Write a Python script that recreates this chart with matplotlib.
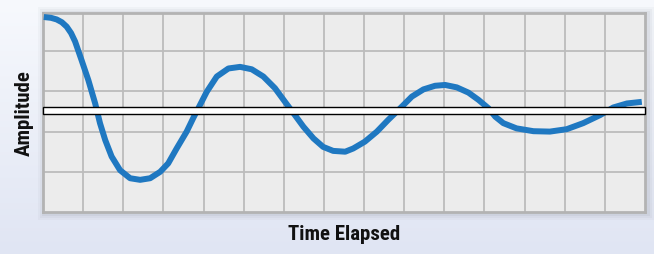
"""Damped oscillation sketch on a light grid with a white baseline bar."""

import matplotlib.pyplot as plt
import numpy as np
from matplotlib.patches import Rectangle
from matplotlib.colors import LinearSegmentedColormap

# curve, in grid units (columns, rows)
time_elapsed = [0.02, 0.20, 0.34, 0.47, 0.59, 0.70, 0.80, 0.96, 1.13, 1.30,
                1.42, 1.55, 1.71, 1.92, 2.17, 2.42, 2.67, 2.92, 3.12, 3.33,
                3.58, 3.76, 3.87, 4.08, 4.33, 4.62, 4.91, 5.20, 5.49, 5.78,
                6.03, 6.24, 6.49, 6.74, 6.98, 7.23, 7.53, 7.73, 8.02, 8.32,
                8.60, 8.90, 9.19, 9.48, 9.77, 10.02, 10.31, 10.60, 10.85,
                11.10, 11.27, 11.47, 11.80, 12.22, 12.63, 13.05, 13.46, 13.88,
                14.21, 14.55, 14.92]
amplitude = [4.85, 4.83, 4.79, 4.72, 4.61, 4.45, 4.24, 3.78, 3.28, 2.70,
             2.21, 1.79, 1.38, 1.04, 0.84, 0.80, 0.84, 1.00, 1.21, 1.58,
             2.00, 2.37, 2.58, 2.99, 3.37, 3.57, 3.61, 3.55, 3.37, 3.08,
             2.74, 2.46, 2.12, 1.83, 1.62, 1.52, 1.50, 1.58, 1.75, 2.00,
             2.29, 2.58, 2.87, 3.05, 3.14, 3.16, 3.10, 2.97, 2.79,
             2.58, 2.37, 2.21, 2.08, 2.01, 2.00, 2.06, 2.21, 2.41,
             2.60, 2.70, 2.74]
baseline = (2.44, 2.62)  # white bar, bottom and top
n_cols, n_rows = 15, 4.95

W, H = 654, 254
fig = plt.figure(figsize=(W / 100, H / 100), dpi=100)

# background gradient
bg = fig.add_axes([0, 0, 1, 1], zorder=-10)
bg.axis("off")
grad_cmap = LinearSegmentedColormap.from_list("bg", ["#f7f9fd", "#e0e5f3"])
bg.imshow(np.linspace(0, 1, 256)[:, None], aspect="auto", cmap=grad_cmap,
          extent=[0, 1, 0, 1], origin="upper")
bg.set_xlim(0, 1)
bg.set_ylim(0, 1)

# plot area in pixels
left, right, top, bottom = 43, 645, 13, 212
# soft shadow around the frame
for pad, a in [(7, 0.04), (5, 0.05), (3, 0.07)]:
    bg.add_patch(Rectangle(((left - pad + 2) / W, (H - bottom - pad - 1) / H),
                           (right - left + 2 * pad) / W,
                           (bottom - top + 2 * pad) / H,
                           facecolor="#5a6070", edgecolor="none", alpha=a))

ax = fig.add_axes([left / W, (H - bottom) / H, (right - left) / W,
                   (bottom - top) / H])
ax.set_facecolor("#ececec")
ax.set_xlim(0, n_cols)
ax.set_ylim(0, n_rows)
ax.set_xticks(np.arange(1, n_cols))
ax.set_yticks(np.arange(1, 5))
ax.tick_params(length=0, labelbottom=False, labelleft=False)
ax.grid(True, color="#bcbcbc", linewidth=1.3)
ax.set_axisbelow(True)
for s in ax.spines.values():
    s.set_color("#b3b3b3")
    s.set_linewidth(2.0)

ax.plot(time_elapsed, amplitude, color="#1f78c1", linewidth=4.3,
        solid_capstyle="butt", solid_joinstyle="round", zorder=3)
ax.add_patch(Rectangle((0, baseline[0]), n_cols, baseline[1] - baseline[0],
                       facecolor="white", edgecolor="black", linewidth=1.0,
                       zorder=4, clip_on=False))

font = ["Roboto Condensed", "DejaVu Sans Condensed", "Liberation Sans Narrow",
        "Open Sans Condensed", "Roboto"]
fig.text(344 / W, 1 - 235 / H, "Time Elapsed", ha="center", va="center",
         fontsize=15, fontweight="bold", color="#111111", family=font)
fig.text(24 / W, 1 - 113 / H, "Amplitude", ha="center", va="center",
         rotation=90, fontsize=15, fontweight="bold", color="#111111",
         family=font)

fig.savefig("out.png", dpi=100)
